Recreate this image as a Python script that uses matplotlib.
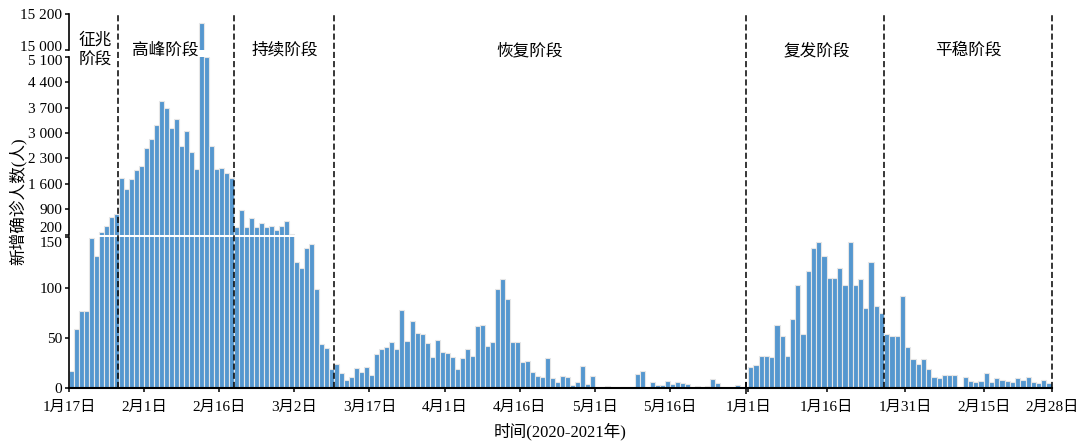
import numpy as np
import matplotlib.pyplot as plt
from matplotlib.ticker import FuncFormatter
from matplotlib.transforms import blended_transform_factory, ScaledTranslation

plt.rcParams['font.family'] = ['Liberation Serif', 'Noto Sans CJK SC']

# daily new confirmed cases, 2020-01-17 .. 2020-05-30
cases_2020 = [
    # Jan 17-31
    17, 59, 77, 77, 149, 131, 259, 444, 688, 769, 1771, 1459, 1737, 1982, 2102,
    # Feb 1-29
    2590, 2829, 3235, 3887, 3694, 3143, 3399, 2656, 3062, 2478, 2015, 15152, 5090, 2641,
    2009, 2048, 1886, 1749, 394, 889, 397, 648, 409, 508, 406, 433, 327, 427, 573,
    # Mar 1-31
    202, 125, 119, 139, 143, 99, 44, 40, 19, 24, 15, 8, 11, 20, 16, 21, 13, 34, 39, 41,
    46, 39, 78, 47, 67, 55, 54, 45, 31, 48, 36,
    # Apr 1-30
    35, 31, 19, 30, 39, 32, 62, 63, 42, 46, 99, 108, 89, 46, 46, 26, 27, 16, 12, 11,
    30, 10, 6, 12, 11, 3, 6, 22, 4, 12,
    # May 1-30
    0, 0, 2, 0, 0, 0, 0, 0, 14, 17, 0, 6, 3, 3, 7, 4, 6, 5, 4, 0,
    2, 0, 2, 9, 5, 0, 0, 0, 3, 0,
]
# daily new confirmed cases, 2021-01-01 .. 2021-02-27
cases_2021 = [
    21, 23, 32, 32, 31, 63, 52, 32, 69, 103, 54, 116, 139, 145, 131,
    109, 109, 119, 103, 145, 103, 108, 80, 125, 82, 75, 54, 52, 52, 92,
    41, 29, 24, 29, 19, 11, 10, 13, 13, 13, 0, 11, 7, 6, 7,
    15, 6, 10, 8, 7, 6, 10, 8, 11, 6, 5, 8, 5,
]

ticks_2020 = [0, 15, 30, 45, 60, 75, 90, 105, 120]
labels_2020 = ['1月17日', '2月1日', '2月16日', '3月2日', '3月17日',
               '4月1日', '4月16日', '5月1日', '5月16日']
ticks_2021 = [0, 15, 30, 45, 58]
labels_2021 = ['1月1日', '1月16日', '1月31日', '2月15日', '2月28日']

yticks_top = [15000, 15200]
yticks_mid = [200, 900, 1600, 2300, 3000, 3700, 4400, 5100]
yticks_bot = [0, 50, 100, 150]

bounds_2020 = [9.8, 33, 53]
bounds_2021 = [-0.4, 26, 58]
phase_names = ['征兆\n阶段', '高峰阶段', '持续阶段', '恢复阶段', '复发阶段', '平稳阶段']
phase_x = [95, 165, 285, 530, 817, 968]   # label centres, pixels

bar_color = '#5597cf'
edge_color = '#e6e6e6'

W, H = 1080, 445
fig = plt.figure(figsize=(W / 100, H / 100), dpi=100)


def rect(x0, x1, y0, y1):
    # pixel box (top-left origin) -> figure fraction
    return [x0 / W, 1 - y1 / H, (x1 - x0) / W, (y1 - y0) / H]


ax_top = fig.add_axes(rect(69, 746, 14, 50))
ax_mid = fig.add_axes(rect(69, 746, 57, 234.5))
ax_bot = fig.add_axes(rect(69, 746, 237.3, 388))
ax_21 = fig.add_axes(rect(746, 1051.7, 237.3, 388))

fmt = FuncFormatter(lambda v, p: '{:,}'.format(int(v)).replace(',', ' '))
x20 = np.arange(len(cases_2020))
x21 = np.arange(len(cases_2021))

for ax, lim, ticks in [(ax_top, (15000, 15200), yticks_top),
                       (ax_mid, (200, 5100), yticks_mid),
                       (ax_bot, (0, 150), yticks_bot)]:
    ax.bar(x20, cases_2020, width=1, align='edge', color=bar_color,
           edgecolor=edge_color, linewidth=0.8)
    ax.set_xlim(0, 135.2)
    ax.set_ylim(*lim)
    ax.set_yticks(ticks)
    ax.yaxis.set_major_formatter(fmt)
    ax.set_facecolor('none')
    for s in ['top', 'right']:
        ax.spines[s].set_visible(False)
    ax.spines['left'].set_linewidth(1.2)
    ax.tick_params(axis='y', direction='out', length=3, width=1.1,
                   labelsize=11, pad=2)

for ax in [ax_top, ax_mid]:
    ax.spines['bottom'].set_visible(False)
    ax.set_xticks([])

ax_21.bar(x21, cases_2021, width=1, align='edge', color=bar_color,
          edgecolor=edge_color, linewidth=0.8)
ax_21.set_xlim(-0.4, 58)
ax_21.set_ylim(0, 150)
ax_21.set_yticks([])
ax_21.set_facecolor('none')
for s in ['top', 'right', 'left']:
    ax_21.spines[s].set_visible(False)

for ax, ticks, labels in [(ax_bot, ticks_2020, labels_2020),
                          (ax_21, ticks_2021, labels_2021)]:
    ax.set_xticks(ticks)
    ax.set_xticklabels(labels)
    ax.spines['bottom'].set_linewidth(1.5)
    ax.tick_params(axis='x', direction='out', length=3, width=1.1,
                   labelsize=11, pad=6)

# break mark at the end of the 2020 axis
ax_bot.set_xticks([135.2], minor=True)
ax_bot.tick_params(axis='x', which='minor', direction='inout', length=8, width=1.1)

# keep the labels at the y-axis breaks apart
ax_mid.yaxis.get_major_ticks()[0].label1.set_verticalalignment('bottom')
ax_bot.yaxis.get_major_ticks()[-1].label1.set_verticalalignment('top')
lab = ax_top.yaxis.get_major_ticks()[0].label1
lab.set_transform(lab.get_transform() + ScaledTranslation(0, 3 / 72, fig.dpi_scale_trans))
lab = ax_mid.yaxis.get_major_ticks()[-1].label1
lab.set_transform(lab.get_transform() + ScaledTranslation(0, -2 / 72, fig.dpi_scale_trans))

# phase boundaries, spanning all segments
y0, y1 = 1 - 388 / H, 1 - 14 / H
for ax, xs in [(ax_bot, bounds_2020), (ax_21, bounds_2021)]:
    trans = blended_transform_factory(ax.transData, fig.transFigure)
    for x in xs:
        ax.plot([x, x], [y0, y1], transform=trans, clip_on=False, color='black',
                lw=1.1, ls=(0, (4, 2)), zorder=5)

for name, px in zip(phase_names, phase_x):
    fig.text(px / W, 1 - 51 / H, name, ha='center', va='center', fontsize=12,
             linespacing=1.35)

fig.text(18 / W, 1 - 201 / H, '新增确诊人数(人)', rotation=90, ha='center',
         va='center', fontsize=12)
fig.text(560 / W, 1 - 432 / H, '时间(2020-2021年)', ha='center', va='center',
         fontsize=12)

fig.savefig('out.png', dpi=100)
